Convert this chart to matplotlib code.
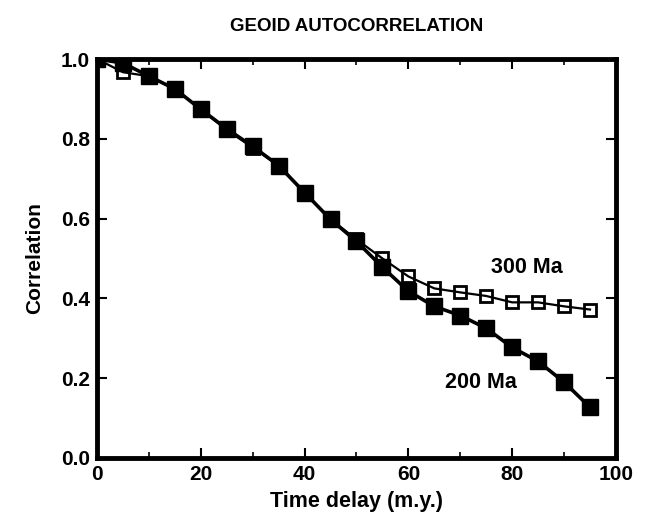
import numpy as np
import matplotlib.pyplot as plt
from matplotlib.ticker import MultipleLocator

plt.rcParams['font.family'] = ['Liberation Sans', 'DejaVu Sans']

# time delay (m.y.)
delay = [0, 5, 10, 15, 20, 25, 30, 35, 40, 45, 50, 55, 60, 65, 70, 75, 80, 85, 90, 95]

# 200 Ma autocorrelation (filled squares)
corr_200 = [1.0, 0.99, 0.957, 0.925, 0.874, 0.825, 0.781, 0.733, 0.665, 0.598, 0.543,
            0.478, 0.418, 0.38, 0.357, 0.325, 0.277, 0.242, 0.19, 0.127]
# 300 Ma autocorrelation (open squares)
corr_300 = [1.0, 0.967, 0.957, 0.925, 0.874, 0.822, 0.778, 0.733, 0.665, 0.598, 0.548,
            0.50, 0.455, 0.425, 0.415, 0.406, 0.39, 0.39, 0.38, 0.372]

fig = plt.figure(figsize=(6.47, 5.18), dpi=100)
ax = fig.add_axes([0.150, 0.116, 0.802, 0.770])

ax.plot(delay, corr_200, color='black', lw=2.6, marker='s', ms=11.5,
        mfc='black', mec='black', zorder=3)
ax.plot(delay, corr_300, color='black', lw=1.6, marker='s', ms=8.5,
        mfc='none', mec='black', mew=2.0, zorder=4)

ax.text(76, 0.477, '300 Ma', fontsize=15.5, fontweight='bold', va='center')
ax.text(67, 0.19, '200 Ma', fontsize=15.5, fontweight='bold', va='center')

ax.set_xlim(0, 100)
ax.set_ylim(0, 1.0)
ax.xaxis.set_major_locator(MultipleLocator(20))
ax.xaxis.set_minor_locator(MultipleLocator(10))
ax.yaxis.set_major_locator(MultipleLocator(0.2))
ax.set_yticklabels(['%.1f' % v for v in ax.get_yticks()])

ax.tick_params(which='both', direction='in', top=True, right=True)
ax.tick_params(which='major', length=7, width=1.5, labelsize=15, pad=5)
ax.tick_params(which='minor', length=4, width=1.2)
for lab in ax.get_xticklabels() + ax.get_yticklabels():
    lab.set_fontweight('bold')
for s in ax.spines.values():
    s.set_linewidth(3.5)

ax.set_xlabel('Time delay (m.y.)', fontsize=15.5, fontweight='bold', labelpad=5)
ax.set_ylabel('Correlation', fontsize=15, fontweight='bold', labelpad=12)
ax.set_title('GEOID AUTOCORRELATION', fontsize=13.5, fontweight='bold', pad=20)

fig.savefig('out.png', dpi=100)
